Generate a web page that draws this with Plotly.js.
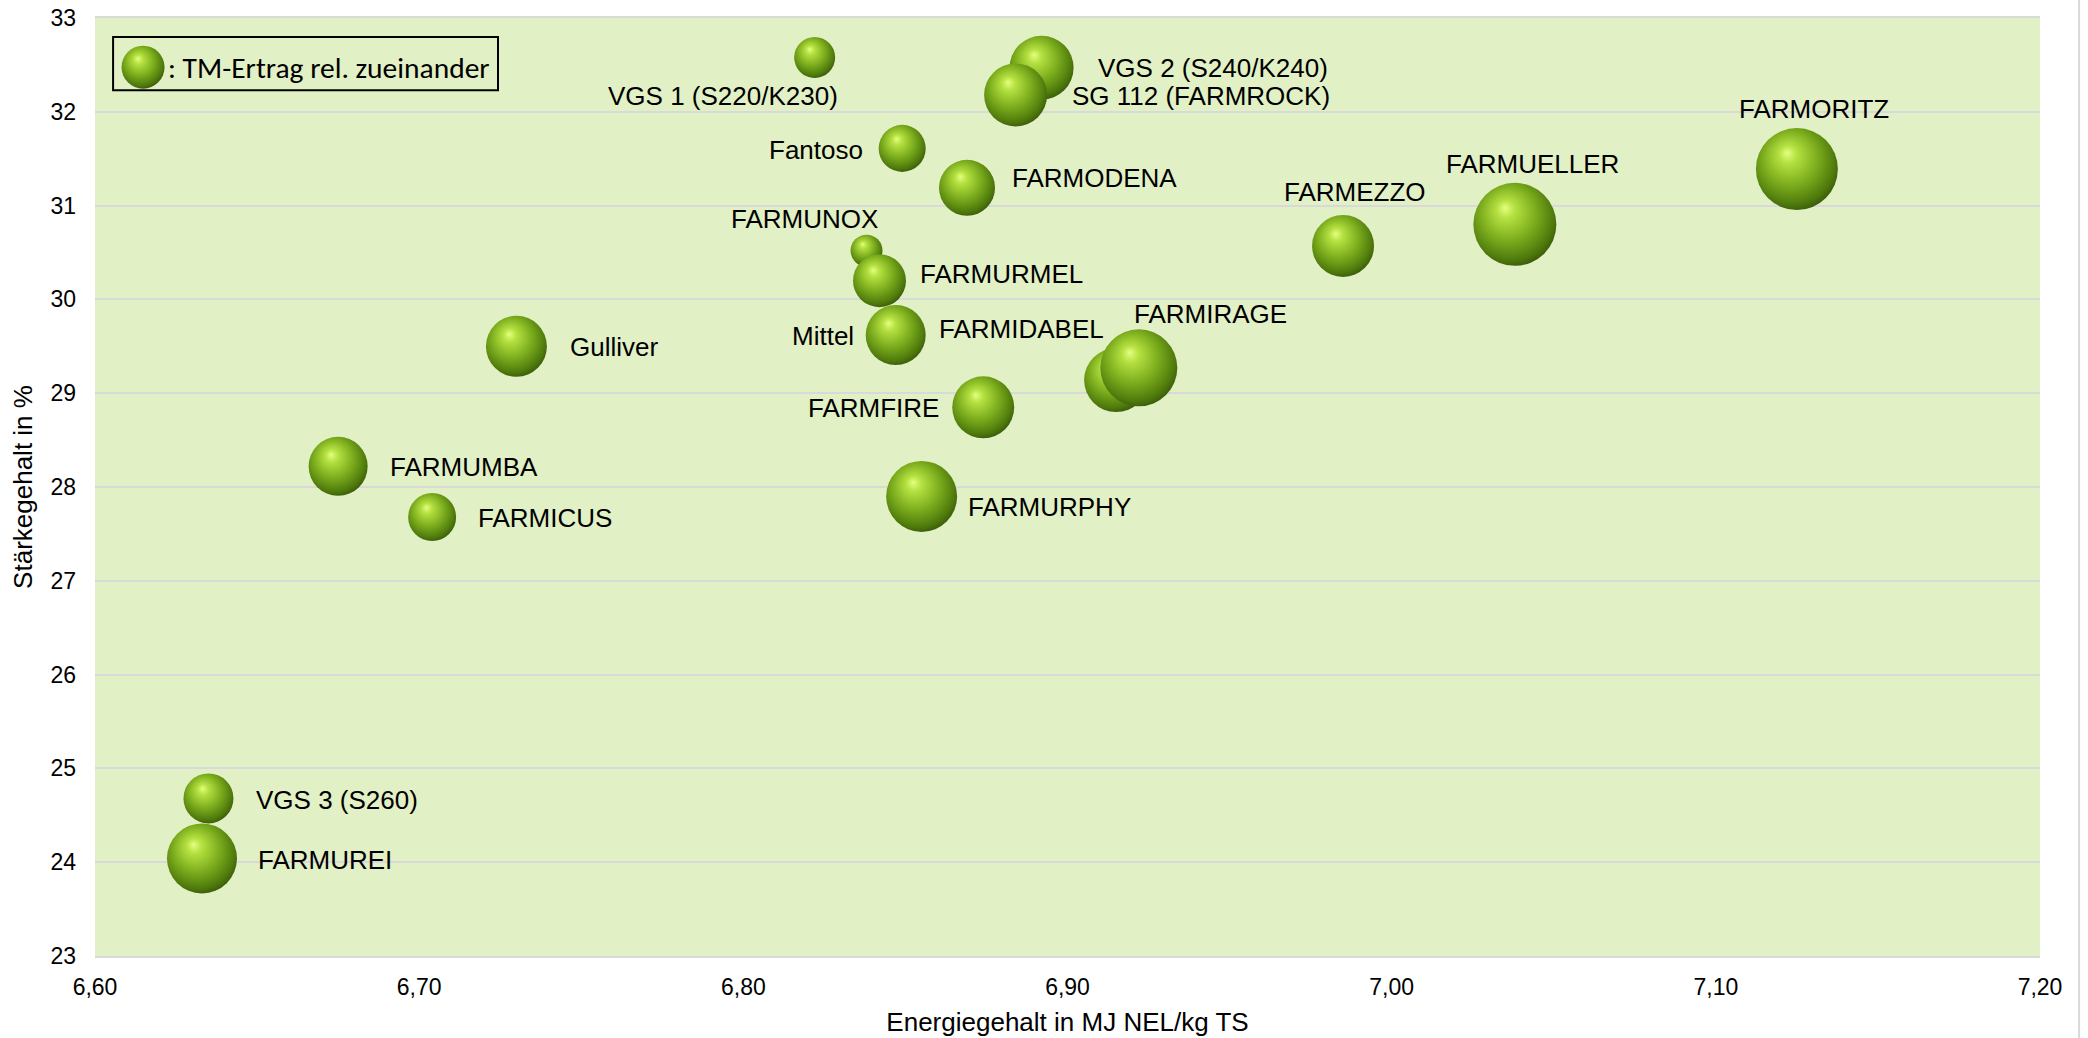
<!DOCTYPE html>
<html><head><meta charset="utf-8">
<script src="https://cdn.plot.ly/plotly-3.0.1.min.js"></script>
<style>html,body{margin:0;padding:0;background:#fff;} #chart{width:2088px;height:1038px;}</style>
</head><body><div id="chart"></div>
<script>
// Sorten (draw order: later items on top)
const sorten = ["VGS 1 (S220/K230)","VGS 2 (S240/K240)","SG 112 (FARMROCK)","Fantoso","FARMODENA",
  "FARMUNOX","FARMURMEL","Mittel","FARMIDABEL","FARMIRAGE","FARMFIRE","FARMURPHY","Gulliver",
  "FARMUMBA","FARMICUS","VGS 3 (S260)","FARMUREI","FARMEZZO","FARMUELLER","FARMORITZ"];
// Energiegehalt in MJ NEL/kg TS
const energie = [6.822,6.892,6.884,6.849,6.869,6.838,6.842,6.847,6.915,6.922,6.874,6.855,6.730,
  6.675,6.704,6.635,6.633,6.985,7.038,7.125];
// Stärkegehalt in %
const staerke = [32.58,32.47,32.18,31.61,31.19,30.52,30.20,29.62,29.14,29.27,28.85,27.90,29.50,
  28.22,27.68,24.68,24.04,30.57,30.80,31.39];
// TM-Ertrag rel. zueinander (bubble area)
const tmErtrag = [16.8,41.0,39.7,22.1,31.4,10.2,28.1,36.0,41.0,59.3,38.4,50.4,37.2,34.8,23.0,25.0,
  49.0,38.4,68.9,67.2];
const xTicks = [6.6,6.7,6.8,6.9,7.0,7.1,7.2];
const yTicks = [23,24,25,26,27,28,29,30,31,32,33];

// label placement: [xanchor, dx(px), dy(px, down)]
const labelPlace = [["right",25,39],["left",54,0],["left",54,1],["right",-37,2],["left",43,-10],
  ["center",-62,-32],["left",39,-7],["right",-40,1],["right",-10,-51],["center",72,-54],
  ["right",-42,1],["left",44,11],["left",52,1],["left",50,1],["left",44,1],["left",46,2],
  ["left",54,2],["center",12,-54],["center",18,-60],["center",17,-60]];

const font = "Liberation Sans, Arial, sans-serif";

const bubbles = {
  type: "scatter", mode: "markers", x: energie, y: staerke, text: sorten,
  hoverinfo: "text",
  marker: { size: tmErtrag, sizemode: "area", sizeref: 0.02, color: "#4a7a0c",
    gradient: { type: "radial", color: "#d8f76c" }, line: { width: 0 }, opacity: 1 },
  cliponaxis: false, showlegend: false
};
const legendKey = {
  type: "scatter", mode: "markers", x: [0.0247], y: [0.9476], xaxis: "x2", yaxis: "y2",
  marker: { size: 43, color: "#4a7a0c", gradient: { type: "radial", color: "#d8f76c" }, line: { width: 0 } },
  cliponaxis: false, showlegend: false, hoverinfo: "skip"
};

const annotations = sorten.map((s, i) => ({
  x: energie[i], y: staerke[i], xref: "x", yref: "y", text: s, showarrow: false,
  xanchor: labelPlace[i][0], yanchor: "middle", xshift: labelPlace[i][1], yshift: -labelPlace[i][2],
  font: { family: font, size: 26, color: "#000" }
}));
annotations.push({
  xref: "paper", yref: "paper", x: 0.0365, y: 0.9465, xanchor: "left", yanchor: "middle",
  text: ": TM-Ertrag rel. zueinander", showarrow: false,
  font: { family: "Carlito, Lato, sans-serif", size: 29.5, color: "#000" }
});

const layout = {
  width: 2088, height: 1038,
  margin: { l: 95, r: 48, t: 18, b: 82, pad: 0 },
  paper_bgcolor: "#ffffff", plot_bgcolor: "#e2f0c5",
  separators: ",.",
  font: { family: font, color: "#000" },
  xaxis: {
    range: [6.6, 7.2], tickvals: xTicks, tickformat: ".2f", showgrid: false, zeroline: false,
    showline: true, mirror: true, linecolor: "#d9d9d9", linewidth: 2, ticks: "",
    ticklabelstandoff: 9, tickfont: { family: font, size: 23, color: "#000" },
    title: { text: "Energiegehalt in MJ NEL/kg TS", font: { family: font, size: 26, color: "#000" }, standoff: 14 }
  },
  yaxis: {
    range: [23, 33], tickvals: yTicks, showgrid: true, gridcolor: "#d9d9d9", gridwidth: 2,
    zeroline: false, showline: false, ticks: "", ticklabelstandoff: 18,
    tickfont: { family: font, size: 23, color: "#000" },
    title: { text: "Stärkegehalt in %", font: { family: font, size: 26, color: "#000" }, standoff: 10 }
  },
  xaxis2: { overlaying: "x", range: [0, 1], visible: false, fixedrange: true },
  yaxis2: { overlaying: "y", range: [0, 1], visible: false, fixedrange: true },
  shapes: [
    { type: "rect", xref: "paper", yref: "paper", x0: 0.0093, x1: 0.2072, y0: 0.9229, y1: 0.9797,
      line: { color: "#000", width: 2 }, fillcolor: "rgba(0,0,0,0)", layer: "above" },
    { type: "line", xref: "paper", yref: "paper", x0: 1.0201, x1: 1.0201, y0: -0.1, y1: 1.1,
      line: { color: "#d9d9d9", width: 2 } }
  ],
  annotations: annotations
};

Plotly.newPlot("chart", [bubbles, legendKey], layout, { staticPlot: true, responsive: false }).then(gd => {
  // sphere-like shading: shift highlight to the upper left
  gd.querySelectorAll("radialGradient").forEach(g => {
    g.setAttribute("cx", "0.45"); g.setAttribute("cy", "0.42");
    g.setAttribute("r", "0.62"); g.setAttribute("fx", "0.38"); g.setAttribute("fy", "0.3");
    while (g.firstChild) g.removeChild(g.firstChild);
    [["0", "#e4ff80"], ["0.18", "#b4e040"], ["0.55", "#7aab1c"], ["0.85", "#4f7a0c"], ["1", "#35540a"]]
      .forEach(([o, c]) => {
        const st = document.createElementNS("http://www.w3.org/2000/svg", "stop");
        st.setAttribute("offset", o); st.setAttribute("stop-color", c);
        g.appendChild(st);
      });
  });
});
</script>
</body></html>
